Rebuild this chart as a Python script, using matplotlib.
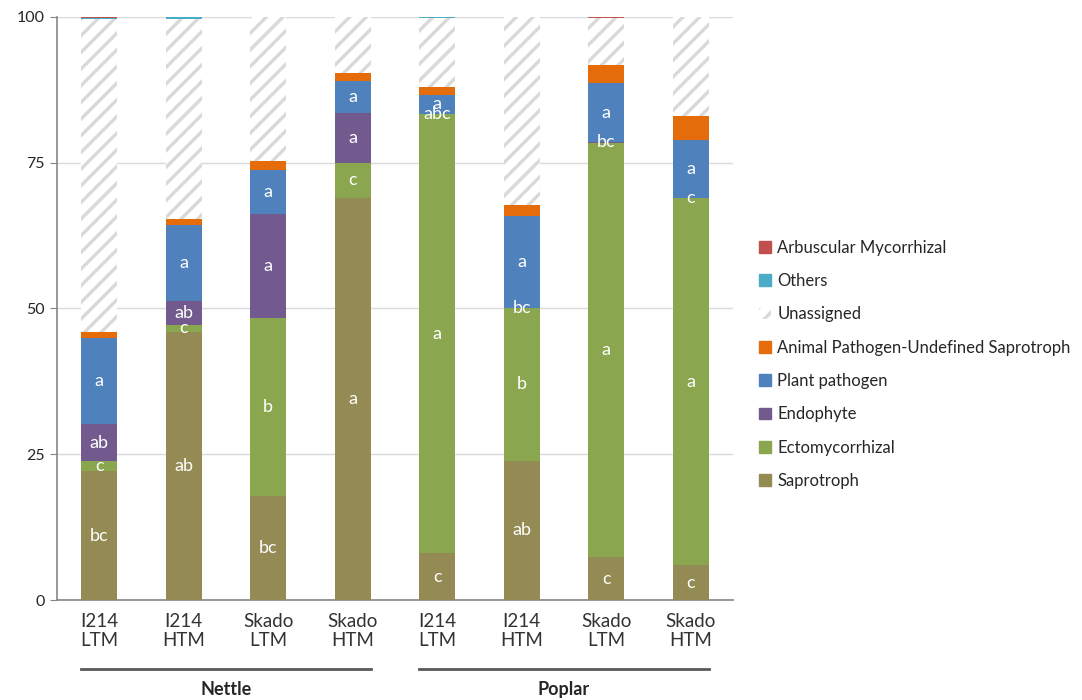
import matplotlib
matplotlib.use("Agg")
import matplotlib.pyplot as plt
from matplotlib.patches import Patch
from matplotlib.transforms import blended_transform_factory
import numpy as np

plt.rcParams['font.family'] = ['Lato', 'DejaVu Sans']
plt.rcParams['hatch.linewidth'] = 2.4

line1 = ["I214", "I214", "Skado", "Skado", "I214", "I214", "Skado", "Skado"]
line2 = ["LTM", "HTM", "LTM", "HTM", "LTM", "HTM", "LTM", "HTM"]
groups = ["Nettle", "Poplar"]

saprotroph = [22.1, 46.0, 17.8, 69.0, 8.0, 23.9, 7.3, 6.0]
ectomycorrhizal = [1.8, 1.1, 30.5, 6.0, 75.3, 26.1, 71.1, 62.9]
endophyte = [6.2, 4.2, 17.9, 8.5, 0.0, 0.0, 0.1, 0.0]
plant_pathogen = [14.9, 13.0, 7.6, 5.5, 3.3, 15.8, 10.1, 9.9]
animal_pathogen = [1.0, 1.1, 1.5, 1.4, 1.3, 1.9, 3.2, 4.1]
unassigned = [53.6, 34.2, 24.7, 9.6, 11.8, 32.3, 7.9, 17.1]
others = [0.2, 0.4, 0.0, 0.0, 0.3, 0.0, 0.0, 0.0]
arbuscular = [0.2, 0.0, 0.0, 0.0, 0.0, 0.0, 0.4, 0.0]

lab_sap = ["bc", "ab", "bc", "a", "c", "ab", "c", "c"]
lab_ecto = ["c", "c", "b", "c", "a", "b", "a", "a"]
lab_endo = ["ab", "ab", "a", "a", "abc", "bc", "bc", "c"]
lab_pp = ["a", "a", "a", "a", "a", "a", "a", "a"]

HATCH_GRAY = '#D9D9D9'
series = [
    ("Saprotroph", saprotroph, "#948A54", None, lab_sap),
    ("Ectomycorrhizal", ectomycorrhizal, "#8AA64F", None, lab_ecto),
    ("Endophyte", endophyte, "#725A8E", None, lab_endo),
    ("Plant pathogen", plant_pathogen, "#4F81BD", None, lab_pp),
    ("Animal Pathogen-Undefined Saprotroph", animal_pathogen, "#E46C0A", None, None),
    ("Unassigned", unassigned, "white", "//", None),
    ("Others", others, "#4BACC6", None, None),
    ("Arbuscular Mycorrhizal", arbuscular, "#C0504D", None, None),
]

fig = plt.figure(figsize=(10.82, 7.0), dpi=100)
ax = fig.add_axes([57/1082, 1-600/700, (733-57)/1082, (600-16.7)/700])

x = np.arange(len(line1))
width = 0.43
bottom = np.zeros(len(x))
handles = {}
for name, vals, color, hatch, labs in series:
    vals = np.array(vals)
    if hatch:
        ax.bar(x, vals, width, bottom=bottom, facecolor='white', hatch=hatch,
               edgecolor=HATCH_GRAY, linewidth=0.0, zorder=3)
        handles[name] = Patch(facecolor='white', hatch='//', edgecolor=HATCH_GRAY, linewidth=0)
    else:
        ax.bar(x, vals, width, bottom=bottom, color=color, linewidth=0.0, zorder=3)
        handles[name] = Patch(facecolor=color, edgecolor=color)
    if labs is not None:
        for xi, b, v, t in zip(x, bottom, vals, labs):
            ax.text(xi, b + v/2, t, ha='center', va='center', color='white',
                    fontsize=13, zorder=5)
    bottom = bottom + vals

ax.set_xlim(-0.5, 7.5)
ax.set_ylim(0, 100)
ax.set_yticks([0, 25, 50, 75, 100])
ax.yaxis.grid(True, color='#D9D9D9', linewidth=1.0, zorder=0)
ax.set_axisbelow(True)
for s in ['top', 'right']:
    ax.spines[s].set_visible(False)
ax.spines['left'].set_color('#868686')
ax.spines['bottom'].set_color('#868686')
ax.spines['left'].set_linewidth(1.2)
ax.spines['bottom'].set_linewidth(1.2)
ax.tick_params(axis='y', direction='out', length=5, color='#868686',
               labelsize=11.5, labelcolor='#262626', pad=4)
ax.tick_params(axis='x', length=0)
ax.set_xticks(x)
ax.set_xticklabels([])

trans = blended_transform_factory(ax.transData, ax.transAxes)
for xi, a, b in zip(x, line1, line2):
    ax.text(xi, -0.022, a + "\n" + b, transform=trans, ha='center', va='top',
            fontsize=13.5, color='#333333', linespacing=1.15)

for gi, g in enumerate(groups):
    c = 1.5 + 4*gi
    ax.plot([c - 1.72, c + 1.72], [-0.118, -0.118], transform=trans, color='#595959',
            linewidth=2, clip_on=False)
    ax.text(c, -0.154, g, transform=trans, ha='center', va='center', fontsize=13,
            fontweight='bold', color='#262626')

order = ["Arbuscular Mycorrhizal", "Others", "Unassigned",
         "Animal Pathogen-Undefined Saprotroph", "Plant pathogen", "Endophyte",
         "Ectomycorrhizal", "Saprotroph"]
fig.legend([handles[n] for n in order], order, loc='upper left',
           bbox_to_anchor=(752/1082, 1-233/700), frameon=False, fontsize=12,
           handlelength=0.72, handleheight=0.72, handletextpad=0.4,
           labelspacing=1.04, labelcolor='#262626', borderaxespad=0)

fig.savefig("out.png", dpi=100)
